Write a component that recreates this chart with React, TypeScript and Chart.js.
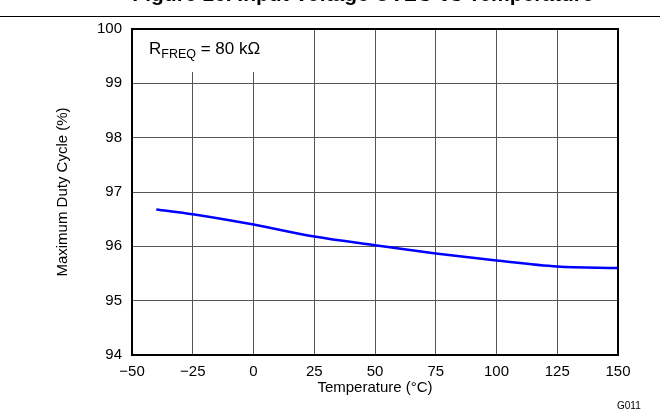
import React, { useEffect, useRef } from "react";
import { Chart, registerables } from "chart.js";

Chart.register(...registerables);

const temperatures = [-40, -25, 0, 25, 50, 75, 100, 125, 150];
const dutyCycle = [96.68, 96.59, 96.4, 96.18, 96.02, 95.87, 95.74, 95.63, 95.6];
const xTicks = [-50, -25, 0, 25, 50, 75, 100, 125, 150];
const yTicks = [94, 95, 96, 97, 98, 99, 100];

const FONT = "'Liberation Sans', Arial, Helvetica, sans-serif";
const W = 661;
const H = 419;

const decor = {
  id: "decor",
  beforeDatasetsDraw(chart: any) {
    const { ctx, chartArea } = chart;
    ctx.save();
    // white box behind annotation
    ctx.fillStyle = "#fff";
    ctx.fillRect(chartArea.left + 1, chartArea.top + 1, 165, 42);
    ctx.fillStyle = "#000";
    ctx.textBaseline = "alphabetic";
    ctx.textAlign = "left";
    let x = chartArea.left + 17;
    const y = chartArea.top + 25;
    ctx.font = `17px ${FONT}`;
    ctx.fillText("R", x, y);
    x += ctx.measureText("R").width;
    ctx.font = `12.5px ${FONT}`;
    ctx.fillText("FREQ", x, y + 4);
    x += ctx.measureText("FREQ").width;
    ctx.font = `17px ${FONT}`;
    ctx.fillText(" = 80 kΩ", x, y);
    ctx.restore();
  },
  afterDraw(chart: any) {
    const { ctx, chartArea } = chart;
    ctx.save();
    ctx.strokeStyle = "#000";
    ctx.lineWidth = 2;
    ctx.strokeRect(chartArea.left, chartArea.top, chartArea.right - chartArea.left, chartArea.bottom - chartArea.top);
    // header line
    ctx.lineWidth = 1;
    ctx.beginPath();
    ctx.moveTo(0, 16.5);
    ctx.lineTo(660, 16.5);
    ctx.stroke();
    // cut-off title
    ctx.fillStyle = "#000";
    ctx.font = `bold 21px ${FONT}`;
    ctx.textAlign = "center";
    ctx.textBaseline = "alphabetic";
    ctx.fillText("Figure 16. Input Voltage UVLO vs Temperature", 363, 1);
    // figure id
    ctx.font = `10px ${FONT}`;
    ctx.textAlign = "left";
    ctx.textBaseline = "middle";
    ctx.fillText("G011", 617, 406);
    ctx.restore();
  },
};

export default function App() {
  const ref = useRef<HTMLCanvasElement | null>(null);
  useEffect(() => {
    if (!ref.current) return;
    const chart = new Chart(ref.current, {
      type: "line",
      data: {
        datasets: [
          {
            data: temperatures.map((t, i) => ({ x: t, y: dutyCycle[i] })),
            borderColor: "#0000ff",
            borderWidth: 2.5,
            pointRadius: 0,
            cubicInterpolationMode: "monotone",
            fill: false,
          },
        ],
      },
      options: {
        responsive: false,
        animation: false,
        events: [],
        layout: { padding: { left: 0, top: 29, right: 43, bottom: 0 } },
        plugins: { legend: { display: false }, tooltip: { enabled: false }, title: { display: false } },
        scales: {
          x: {
            type: "linear",
            min: -50,
            max: 150,
            afterBuildTicks: (s: any) => {
              s.ticks = xTicks.map((v) => ({ value: v }));
            },
            afterFit: (s: any) => {
              s.height = 64;
            },
            ticks: {
              color: "#000",
              font: { family: FONT, size: 15 },
              padding: 8,
              maxRotation: 0,
              autoSkip: false,
              callback: (v: any) => String(v).replace("-", "\u2212"),
            },
            grid: { color: "#555", lineWidth: 1, drawTicks: false },
            border: { display: false },
            title: {
              display: true,
              text: "Temperature (°C)",
              color: "#000",
              font: { family: FONT, size: 15 },
              padding: { top: 0, bottom: 22 },
            },
          },
          y: {
            min: 94,
            max: 100,
            afterBuildTicks: (s: any) => {
              s.ticks = yTicks.map((v) => ({ value: v }));
            },
            afterFit: (s: any) => {
              s.width = 132;
            },
            ticks: {
              color: "#000",
              font: { family: FONT, size: 15 },
              padding: 10,
              autoSkip: false,
            },
            grid: { color: "#555", lineWidth: 1, drawTicks: false },
            border: { display: false },
            title: {
              display: true,
              text: "Maximum Duty Cycle (%)",
              color: "#000",
              font: { family: FONT, size: 15 },
              padding: { top: 54, bottom: 0 },
            },
          },
        },
      },
      plugins: [decor],
    } as any);
    return () => chart.destroy();
  }, []);
  return (
    <div style={{ position: "absolute", left: 0, top: 0, width: W, height: H, background: "#fff" }}>
      <canvas ref={ref} width={W} height={H} style={{ width: W, height: H, display: "block" }} />
    </div>
  );
}
